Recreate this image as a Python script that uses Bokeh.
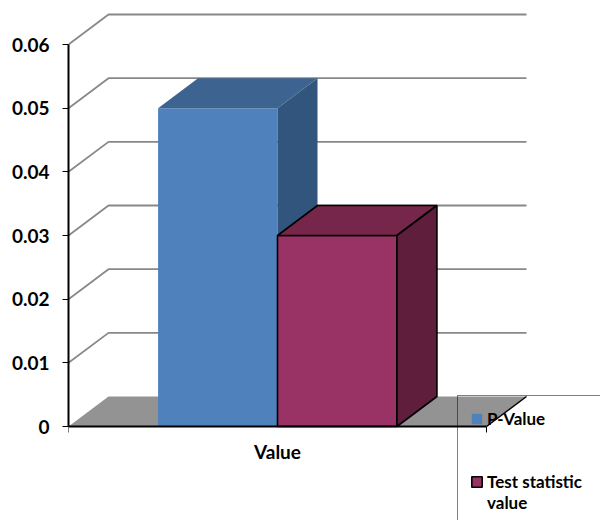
from bokeh.plotting import figure
from bokeh.models import Range1d, FixedTicker, Legend, LegendItem, ColumnDataSource
from bokeh.embed import file_html
from bokeh.resources import INLINE

# ---- data ----
categories = ["P-Value", "Test statistic value"]
values = [0.05, 0.03]
y_ticks = [0, 0.01, 0.02, 0.03, 0.04, 0.05, 0.06]
y_tick_labels = ["0", "0.01", "0.02", "0.03", "0.04", "0.05", "0.06"]
x_label = "Value"

# ---- styles ----
front_colors = ["#4F81BD", "#993366"]
top_colors = ["#3D6491", "#76264A"]
side_colors = ["#32557D", "#5E1E3C"]
outline_alpha = [0.0, 1.0]
FONT = "Lato"

# 3-D depth offsets (x in category units, y in value units)
DX = 0.0957
DY = 0.00471
W = 1 / 3.5          # bar width (gap width 150%)
GAP = 0.75 * W
PX_Y = 0.06 / 382    # value units per pixel

p = figure(width=600, height=520,
           x_range=Range1d(0, 532 / 418),
           y_range=Range1d(-94 * PX_Y, 416 * PX_Y),
           min_border_left=68, min_border_right=0, min_border_top=10, min_border_bottom=0,
           output_backend="svg", toolbar_location=None)
p.outline_line_color = None
p.xgrid.visible = False
p.ygrid.visible = False

# floor
p.patch([0, DX, 1 + DX, 1], [0, DY, DY, 0], fill_color="#939393", line_color=None)
p.line([1, 1 + DX], [0, DY], line_color="black", line_width=1.5)

# back / side wall gridlines
gx = [[0, DX, 1 + DX] for v in y_ticks[1:]]
gy = [[v, v + DY, v + DY] for v in y_ticks[1:]]
p.multi_line(gx, gy, line_color="#888888", line_width=1.8)

# bars
fronts = []
for i, v in enumerate(values):
    x0 = GAP + i * W
    x1 = x0 + W
    src = ColumnDataSource(dict(left=[x0], right=[x1], top=[v]))
    f = p.quad(left="left", right="right", bottom=0, top="top", source=src,
               fill_color=front_colors[i], line_color="black",
               line_alpha=outline_alpha[i], line_width=1.6)
    fronts.append(f)
    p.patch([x0, x0 + DX, x1 + DX, x1], [v, v + DY, v + DY, v],
            fill_color=top_colors[i], line_color="black",
            line_alpha=outline_alpha[i], line_width=1.6)
    p.patch([x1, x1 + DX, x1 + DX, x1], [0, DY, v + DY, v],
            fill_color=side_colors[i], line_color="black",
            line_alpha=outline_alpha[i], line_width=1.6)

# axes
ya = p.yaxis[0]
ya.ticker = FixedTicker(ticks=y_ticks)
ya.major_label_overrides = dict(zip(y_ticks, y_tick_labels))
ya.bounds = (0, 0.06)
ya.axis_line_width = 2
ya.axis_line_color = "black"
ya.major_tick_out = 6
ya.major_tick_in = 0
ya.major_tick_line_color = "black"
ya.minor_tick_line_color = None
ya.major_label_standoff = 13
ya.major_label_text_font = FONT
ya.major_label_text_font_style = "bold"
ya.major_label_text_font_size = "19px"
ya.major_label_text_color = "black"

xa = p.xaxis[0]
xa.fixed_location = 0
xa.ticker = FixedTicker(ticks=[0.5], minor_ticks=[0, 1])
xa.major_label_overrides = {0.5: x_label}
xa.bounds = (0, 1)
xa.axis_line_width = 2
xa.axis_line_color = "black"
xa.major_tick_line_color = None
xa.major_tick_out = 0
xa.major_tick_in = 0
xa.minor_tick_out = 6
xa.minor_tick_in = 0
xa.minor_tick_line_color = "black"
xa.major_label_standoff = 7
xa.major_label_text_font = FONT
xa.major_label_text_font_style = "bold"
xa.major_label_text_font_size = "19px"
xa.major_label_text_color = "black"

# legend
dummy = p.scatter(x=[], y=[], fill_alpha=0, line_alpha=0)
first, second = categories[1].rsplit(" ", 1)
legend = Legend(items=[
    LegendItem(label=categories[0], renderers=[fronts[0]]),
    LegendItem(label=" ", renderers=[dummy]),
    LegendItem(label=" ", renderers=[dummy]),
    LegendItem(label=first, renderers=[fronts[1]]),
    LegendItem(label=second, renderers=[dummy]),
], location=(389, -6))
legend.border_line_color = "black"
legend.border_line_width = 1
legend.background_fill_alpha = 0
legend.label_text_font = FONT
legend.label_text_font_style = "bold"
legend.label_text_font_size = "17px"
legend.label_text_color = "black"
legend.glyph_width = 13
legend.glyph_height = 13
legend.label_height = 21
legend.spacing = 0
legend.padding = 12
legend.margin = 0
legend.label_standoff = 4
legend.label_width = 130
p.add_layout(legend)

open("out.html", "w").write(file_html(p, INLINE))
